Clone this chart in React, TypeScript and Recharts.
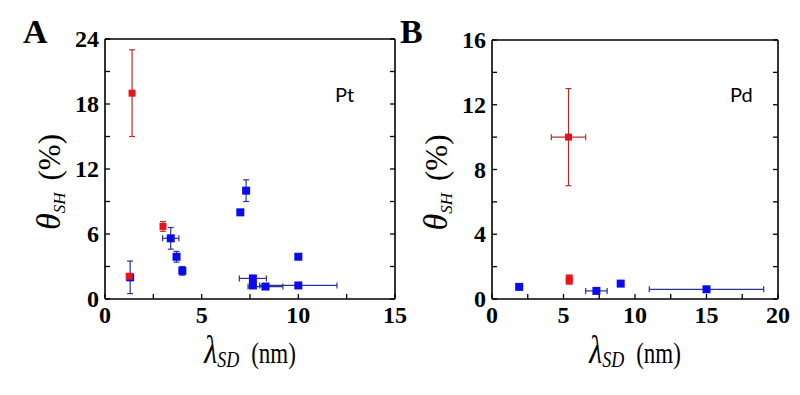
import { ScatterChart, Scatter, XAxis, YAxis, ErrorBar } from 'recharts'

// Panel A (Pt)
const ptBlueX = [1.3, 3.4, 3.7, 4.0, 7.0, 7.3, 7.65, 7.65, 8.3, 10.0, 10.0]
const ptBlueY = [2.0, 5.6, 3.9, 2.6, 8.0, 10.0, 1.9, 1.25, 1.15, 3.9, 1.25]
const ptBlueErrX = [0, 0.42, 0, 0, 0, 0, 0.7, 0, 0.9, 0, 2.0]
const ptBlueErrY = [1.5, 1.0, 0.5, 0.4, 0, 1.0, 0, 0, 0, 0, 0]
const ptRedX = [1.4, 3.0, 1.25]
const ptRedY = [19, 6.7, 2.1]
const ptRedErrY = [4, 0.45, 0]

// Panel B (Pd)
const pdBlueX = [1.9, 7.3, 9.0, 15.0]
const pdBlueY = [0.75, 0.5, 0.95, 0.6]
const pdBlueErrX = [0, 0.75, 0, 4.0]
const pdRedX = [5.35, 5.4, 5.4]
const pdRedY = [10, 1.1, 1.3]
const pdRedErrX = [1.2, 0, 0]
const pdRedErrY = [3, 0, 0]

const ptXTicks = [0, 2.5, 5, 7.5, 10, 12.5, 15]
const ptYTicks = [0, 3, 6, 9, 12, 15, 18, 21, 24]
const pdXTicks = [0, 2.5, 5, 7.5, 10, 12.5, 15, 17.5, 20]
const pdYTicks = [0, 2, 4, 6, 8, 10, 12, 14, 16]

const build = (xs: number[], ys: number[], ex?: number[], ey?: number[]) =>
  xs.map((x, i) => ({
    x,
    y: ys[i],
    ex: ex && ex[i] ? ex[i] : undefined,
    ey: ey && ey[i] ? ey[i] : undefined,
  }))

const RED = '#e8141c'
const BLUE = '#0a0aee'
const RED_ERR = '#b3302d'
const BLUE_ERR = '#2a3590'
const SERIF = "'Liberation Serif', 'Times New Roman', serif"

const tickFont = { fontFamily: SERIF, fontWeight: 700, fontSize: 24 }
const titleFont = { fontFamily: SERIF, fontWeight: 400 }

const square = (size: number, fill: string) => (p: any) => (
  <rect x={p.cx - size / 2} y={p.cy - size / 2} width={size} height={size} fill={fill} />
)

const makeTick = (side: string, major: number) => (props: any) => {
  const { x, y, payload } = props
  const v = payload.value
  const isMajor = Math.abs(v / major - Math.round(v / major)) < 1e-6
  const len = 5
  let line = null
  let label = null
  if (side === 'bottom') {
    line = <line x1={x} y1={y} x2={x} y2={y - len} stroke="#000" strokeWidth={1.3} />
    if (isMajor)
      label = (
        <text x={x} y={y + 24} textAnchor="middle" style={tickFont} fill="#000">
          {v}
        </text>
      )
  } else if (side === 'top') {
    line = <line x1={x} y1={y} x2={x} y2={y + len} stroke="#000" strokeWidth={1.3} />
  } else if (side === 'left') {
    line = <line x1={x} y1={y} x2={x + len} y2={y} stroke="#000" strokeWidth={1.3} />
    if (isMajor)
      label = (
        <text x={x - 6} y={y + 8} textAnchor="end" style={tickFont} fill="#000">
          {v}
        </text>
      )
  } else {
    line = <line x1={x} y1={y} x2={x - len} y2={y} stroke="#000" strokeWidth={1.3} />
  }
  return (
    <g>
      {line}
      {label}
    </g>
  )
}

const XTitle = ({ viewBox }: any) => {
  const cx = viewBox.x + viewBox.width / 2
  const cy = viewBox.y + 64
  return (
    <text x={0} y={0} transform={`translate(${cx} ${cy}) scale(1 1.3)`} textAnchor="middle" style={{ ...titleFont, fontSize: 23 }} fill="#000">
      <tspan style={{ fontStyle: 'italic', fontSize: 30 }}>λ</tspan>
      <tspan style={{ fontStyle: 'italic', fontSize: 18 }} dy={3}>SD</tspan>
      <tspan dy={-3} dx={12}>(nm)</tspan>
    </text>
  )
}

const YTitle = ({ viewBox }: any) => {
  const cx = viewBox.x + viewBox.width - 45
  const cy = viewBox.y + viewBox.height / 2 + 13
  return (
    <text x={cx} y={cy} transform={`rotate(-90 ${cx} ${cy})`} textAnchor="middle" style={{ ...titleFont, fontSize: 31 }} fill="#000">
      <tspan style={{ fontStyle: 'italic', fontSize: 34 }}>θ</tspan>
      <tspan style={{ fontStyle: 'italic', fontSize: 17 }} dy={5}>SH</tspan>
      <tspan dy={-5} dx={12}>(%)</tspan>
    </text>
  )
}

interface PanelProps {
  width: number
  xMax: number
  yMax: number
  xTicks: number[]
  yTicks: number[]
  xMajor: number
  yMajor: number
  margin: { top: number; right: number; bottom: number; left: number }
  blue: any[]
  red: any[]
}

const axisLine = { stroke: '#000', strokeWidth: 1.6 }

const Panel = ({ width, xMax, yMax, xTicks, yTicks, xMajor, yMajor, margin, blue, red }: PanelProps) => (
  <ScatterChart width={width} height={395} margin={margin}>
    <XAxis
      xAxisId="b"
      type="number"
      dataKey="x"
      domain={[0, xMax]}
      ticks={xTicks}
      interval={0}
      height={1}
      tickSize={0}
      tickMargin={0}
      tickLine={false}
      axisLine={axisLine}
      tick={makeTick('bottom', xMajor)}
      allowDataOverflow
      label={{ content: (p: any) => <XTitle viewBox={p.viewBox} /> }}
    />
    <XAxis
      xAxisId="t"
      orientation="top"
      type="number"
      domain={[0, xMax]}
      ticks={xTicks}
      interval={0}
      height={1}
      tickSize={0}
      tickMargin={0}
      tickLine={false}
      axisLine={axisLine}
      tick={makeTick('top', xMajor)}
      allowDataOverflow
    />
    <YAxis
      yAxisId="l"
      type="number"
      dataKey="y"
      domain={[0, yMax]}
      ticks={yTicks}
      interval={0}
      width={1}
      tickSize={0}
      tickMargin={0}
      tickLine={false}
      axisLine={axisLine}
      tick={makeTick('left', yMajor)}
      allowDataOverflow
      label={{ content: (p: any) => <YTitle viewBox={p.viewBox} /> }}
    />
    <YAxis
      yAxisId="r"
      orientation="right"
      type="number"
      domain={[0, yMax]}
      ticks={yTicks}
      interval={0}
      width={1}
      tickSize={0}
      tickMargin={0}
      tickLine={false}
      axisLine={axisLine}
      tick={makeTick('right', yMajor)}
      allowDataOverflow
    />
    <Scatter xAxisId="b" yAxisId="l" data={blue} shape={square(8, BLUE)} isAnimationActive={false}>
      <ErrorBar dataKey="ex" direction="x" width={3} stroke={BLUE_ERR} strokeWidth={1.2} isAnimationActive={false} />
      <ErrorBar dataKey="ey" direction="y" width={3} stroke={BLUE_ERR} strokeWidth={1.2} isAnimationActive={false} />
    </Scatter>
    <Scatter xAxisId="b" yAxisId="l" data={red} shape={square(7, RED)} isAnimationActive={false}>
      <ErrorBar dataKey="ex" direction="x" width={3} stroke={RED_ERR} strokeWidth={1.2} isAnimationActive={false} />
      <ErrorBar dataKey="ey" direction="y" width={3} stroke={RED_ERR} strokeWidth={1.2} isAnimationActive={false} />
    </Scatter>
  </ScatterChart>
)

const letterStyle = {
  position: 'absolute' as const,
  fontFamily: SERIF,
  fontWeight: 'bold' as const,
  fontSize: 34,
  lineHeight: '34px',
}

const metalStyle = {
  position: 'absolute' as const,
  fontFamily: "Lato, 'Open Sans', sans-serif",
  fontSize: 20,
  lineHeight: '20px',
}

export default function App() {
  return (
    <div style={{ position: 'absolute', left: 0, top: 0, width: 800, height: 395, background: '#fff', overflow: 'hidden' }}>
      <div style={{ position: 'absolute', left: 0, top: 0 }}>
        <Panel
          width={430}
          xMax={15}
          yMax={24}
          xTicks={ptXTicks}
          yTicks={ptYTicks}
          xMajor={5}
          yMajor={6}
          margin={{ top: 38, right: 34, bottom: 95, left: 104 }}
          blue={build(ptBlueX, ptBlueY, ptBlueErrX, ptBlueErrY)}
          red={build(ptRedX, ptRedY, undefined, ptRedErrY)}
        />
      </div>
      <div style={{ position: 'absolute', left: 400, top: 0 }}>
        <Panel
          width={400}
          xMax={20}
          yMax={16}
          xTicks={pdXTicks}
          yTicks={pdYTicks}
          xMajor={5}
          yMajor={4}
          margin={{ top: 39, right: 21, bottom: 95, left: 91 }}
          blue={build(pdBlueX, pdBlueY, pdBlueErrX)}
          red={build(pdRedX, pdRedY, pdRedErrX, pdRedErrY)}
        />
      </div>
      <div style={{ ...letterStyle, left: 23, top: 15 }}>A</div>
      <div style={{ ...letterStyle, left: 400, top: 15 }}>B</div>
      <div style={{ ...metalStyle, left: 335, top: 84 }}>Pt</div>
      <div style={{ ...metalStyle, left: 730, top: 84 }}>Pd</div>
    </div>
  )
}
